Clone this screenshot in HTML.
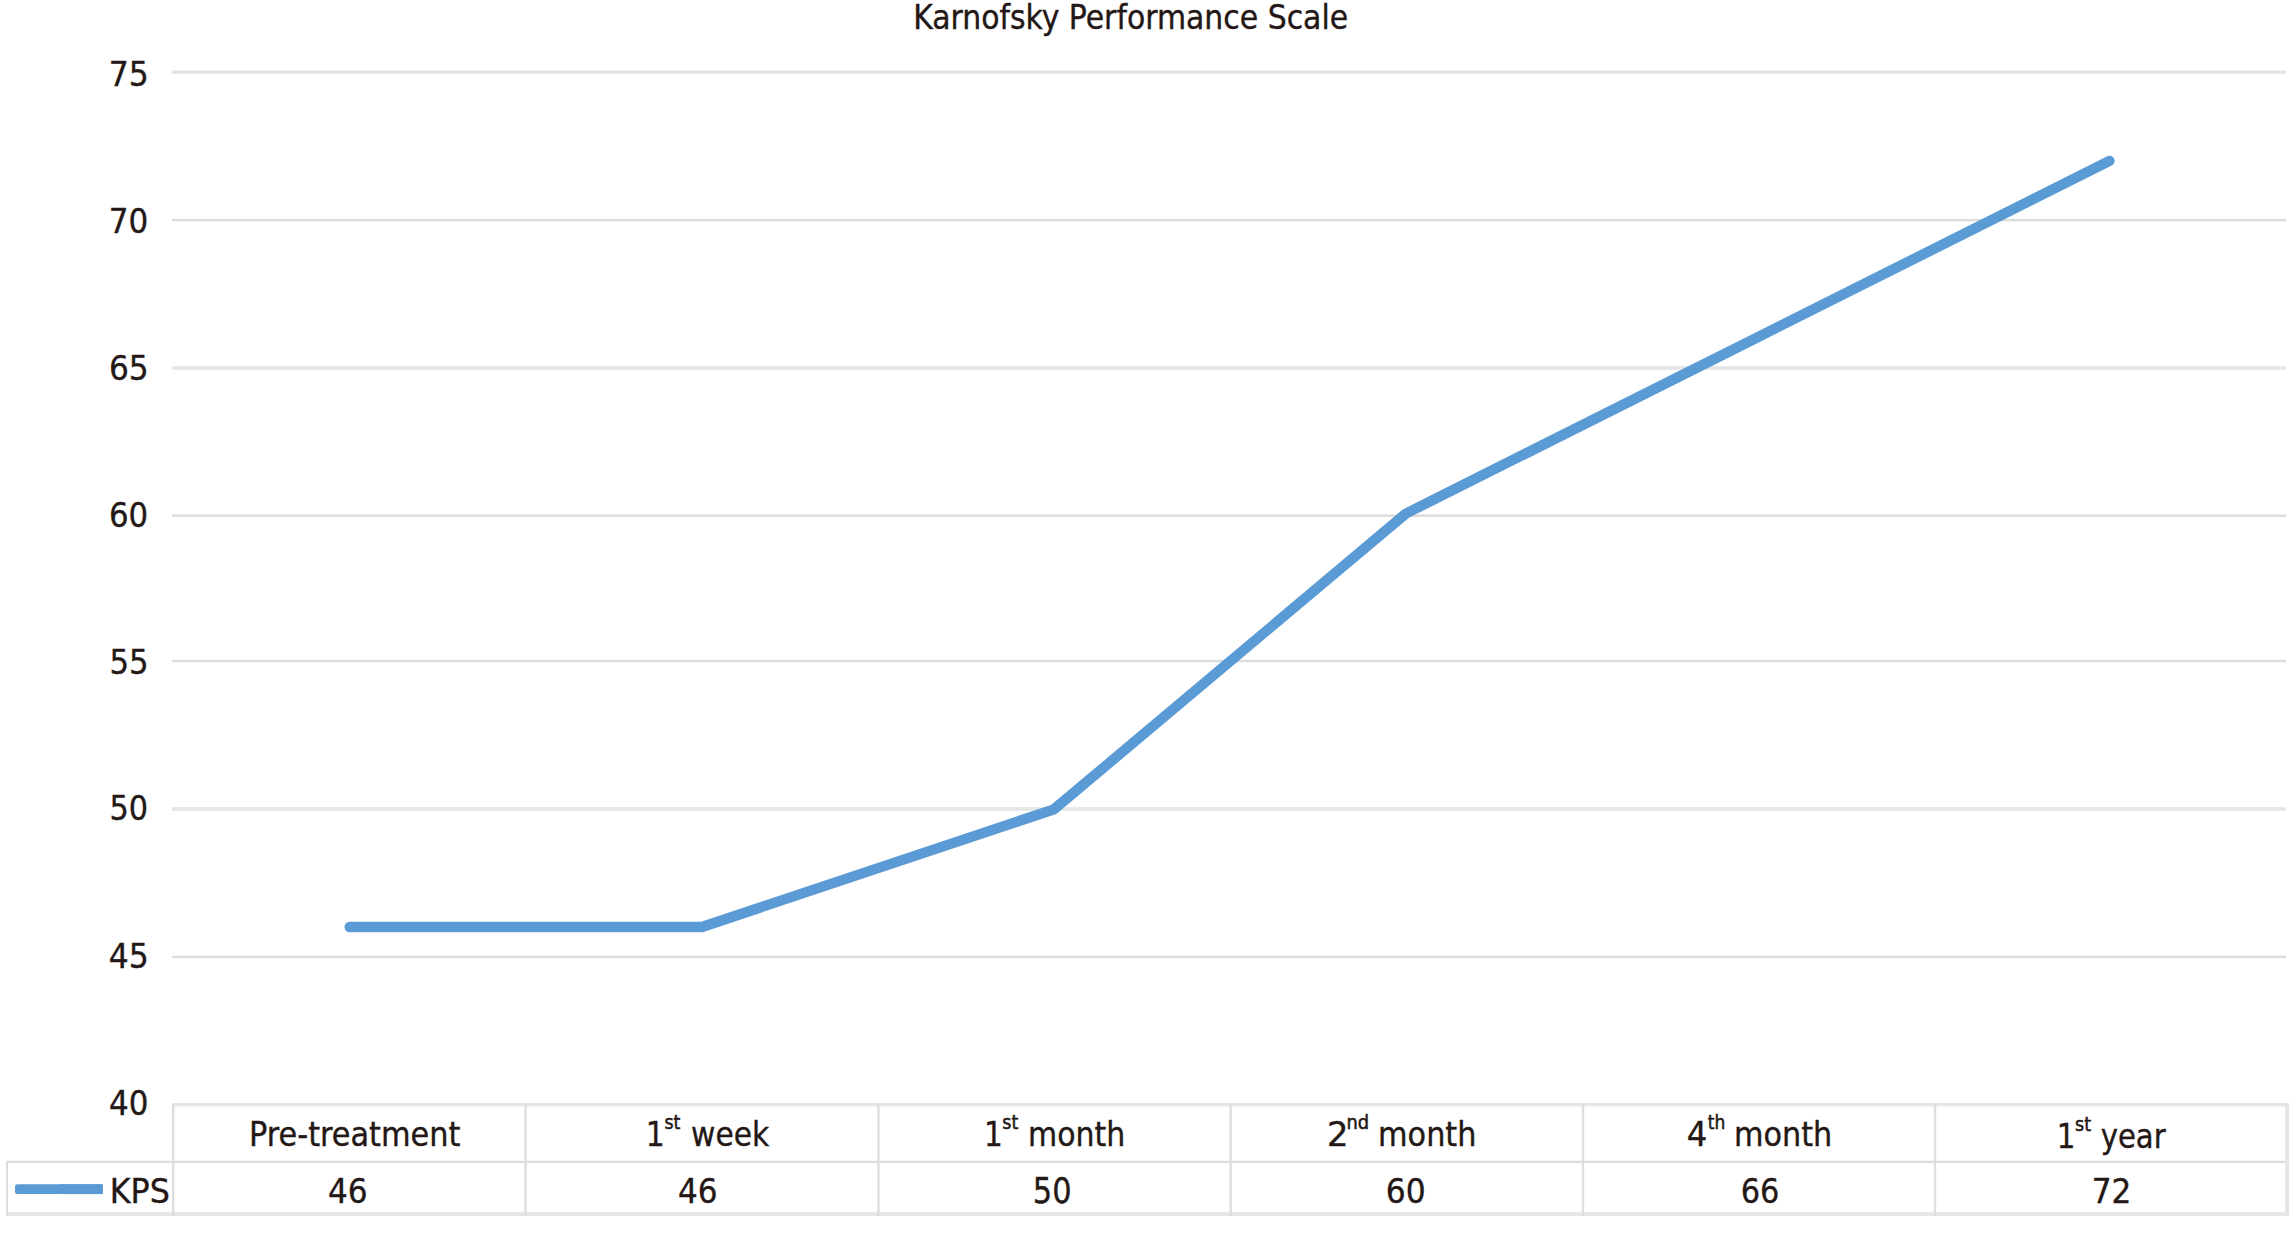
<!DOCTYPE html>
<html lang="en">
<head>
<meta charset="utf-8">
<title>Karnofsky Performance Scale</title>
<style>
html,body{margin:0;padding:0;background:#fff;}
body{width:2294px;height:1244px;overflow:hidden;}
svg{display:block;}
</style>
</head>
<body>
<svg width="2294" height="1244" viewBox="0 0 2294 1244">
<rect x="171.8" y="70.50" width="2114.2" height="3.2" fill="#e3e3e3"/>
<rect x="171.8" y="218.95" width="2114.2" height="2.3" fill="#dcdcdc"/>
<rect x="171.8" y="366.15" width="2114.2" height="3.7" fill="#e6e6e6"/>
<rect x="171.8" y="514.50" width="2114.2" height="2.4" fill="#dcdcdc"/>
<rect x="171.8" y="659.80" width="2114.2" height="2.4" fill="#dcdcdc"/>
<rect x="171.8" y="807.15" width="2114.2" height="3.7" fill="#e6e6e6"/>
<rect x="171.8" y="955.75" width="2114.2" height="2.3" fill="#dcdcdc"/>
<rect x="172.2" y="1103.20" width="2116.7" height="2.2" fill="#e1e1e1"/>
<rect x="172.2" y="1105.40" width="2116.7" height="1.5" fill="#eeeeee"/>
<rect x="6.0" y="1160.75" width="2282.9" height="2.3" fill="#dcdcdc"/>
<rect x="6.0" y="1212.10" width="2282.9" height="3.8" fill="#e6e6e6"/>
<rect x="6.00" y="1161" width="2.0" height="54.90" fill="#dcdcdc"/>
<rect x="172.00" y="1103.2" width="2.4" height="112.70" fill="#dedede"/>
<rect x="524.40" y="1103.2" width="2.4" height="112.70" fill="#dedede"/>
<rect x="877.20" y="1103.2" width="2.4" height="112.70" fill="#dedede"/>
<rect x="1229.50" y="1103.2" width="2.4" height="112.70" fill="#dedede"/>
<rect x="1581.80" y="1103.2" width="2.4" height="112.70" fill="#dedede"/>
<rect x="1933.80" y="1103.2" width="2.4" height="112.70" fill="#dedede"/>
<rect x="2285.15" y="1103.2" width="3.7" height="112.70" fill="#e5e5e5"/>
<rect x="15.0" y="1184.3" width="87.9" height="9.8" rx="2.6" fill="#5b9bd5"/>
<rect x="60" y="1184.3" width="42.9" height="9.8" fill="#5b9bd5"/>
<path d="M349.6 927.0 L702.0 927.0 L1054.0 809.3 L1406.0 513.5 L1759.0 336.6 L2109.5 160.8" stroke="#5b9bd5" stroke-width="10.3" fill="none" stroke-linecap="round" stroke-linejoin="round"/>
<g font-family="'DejaVu Sans Condensed','DejaVu Sans','Liberation Sans',sans-serif" font-stretch="condensed" fill="#231815" stroke="#231815" stroke-width="0.35" stroke-linejoin="round">
<!-- chart title -->
<text transform="matrix(0.9927 0 0 1 913.17 28.50)" font-size="33.5">Karnofsky Performance Scale</text>
<g><!-- value axis labels -->
<text transform="matrix(1.0219 0 0 1 108.70 86.10)" font-size="34.2">75</text>
<text transform="matrix(1.0086 0 0 1 108.73 233.10)" font-size="34.2">70</text>
<text transform="matrix(1.0145 0 0 1 108.97 379.60)" font-size="34.2">65</text>
<text transform="matrix(1.0014 0 0 1 109.00 526.70)" font-size="34.2">60</text>
<text transform="matrix(0.9985 0 0 1 109.55 673.60)" font-size="34.2">55</text>
<text transform="matrix(0.9857 0 0 1 109.58 820.40)" font-size="34.2">50</text>
<text transform="matrix(1.0213 0 0 1 108.72 967.90)" font-size="34.2">45</text>
<text transform="matrix(1.0056 0 0 1 109.04 1114.60)" font-size="34.2">40</text>
</g>
<g><!-- data table: series row -->
<text transform="matrix(1.0521 0 0 1 109.81 1202.80)" font-size="33.5">KPS</text>
<text transform="matrix(1.0000 0 0 1 327.95 1203.00)" font-size="34.6">46</text>
<text transform="matrix(0.9973 0 0 1 678.05 1203.00)" font-size="34.6">46</text>
<text transform="matrix(0.9775 0 0 1 1032.80 1203.00)" font-size="34.6">50</text>
<text transform="matrix(1.0070 0 0 1 1385.69 1203.00)" font-size="34.6">60</text>
<text transform="matrix(0.9762 0 0 1 1740.65 1203.00)" font-size="34.6">66</text>
<text transform="matrix(1.0015 0 0 1 2091.80 1203.00)" font-size="34.6">72</text>
</g>
<g><!-- data table: category header row -->
<text transform="matrix(1.0082 0 0 1 249.03 1145.80)" font-size="33.5">Pre-treatment</text>
<g><text transform="matrix(0.9887 0 0 1 645.79 1145.80)" font-size="33.5">1</text><text transform="matrix(0.9770 0 0 1 664.47 1128.80)" font-size="19.8" stroke-width="0.5">st</text><text transform="matrix(0.9860 0 0 1 691.11 1145.80)" font-size="33.5">week</text></g>
<g><text transform="matrix(0.9811 0 0 1 983.91 1145.80)" font-size="33.5">1</text><text transform="matrix(0.9836 0 0 1 1002.36 1128.80)" font-size="19.8" stroke-width="0.5">st</text><text transform="matrix(0.9946 0 0 1 1028.11 1145.80)" font-size="33.5">month</text></g>
<g><text transform="matrix(1.1228 0 0 1 1326.95 1145.80)" font-size="33.5">2</text><text transform="matrix(1.0025 0 0 1 1346.50 1128.80)" font-size="19.8" stroke-width="0.5">nd</text><text transform="matrix(1.0054 0 0 1 1378.09 1145.80)" font-size="33.5">month</text></g>
<g><text transform="matrix(1.0727 0 0 1 1686.76 1145.80)" font-size="33.5">4</text><text transform="matrix(0.9612 0 0 1 1707.76 1128.80)" font-size="19.8" stroke-width="0.5">th</text><text transform="matrix(1.0043 0 0 1 1734.09 1145.80)" font-size="33.5">month</text></g>
<g><text transform="matrix(0.9736 0 0 1 2056.74 1148.10)" font-size="33.5">1</text><text transform="matrix(0.9902 0 0 1 2074.96 1130.70)" font-size="19.8" stroke-width="0.5">st</text><text transform="matrix(0.9663 0 0 1 2100.68 1148.10)" font-size="33.5">year</text></g>
</g>
</g>
</svg>
</body>
</html>
